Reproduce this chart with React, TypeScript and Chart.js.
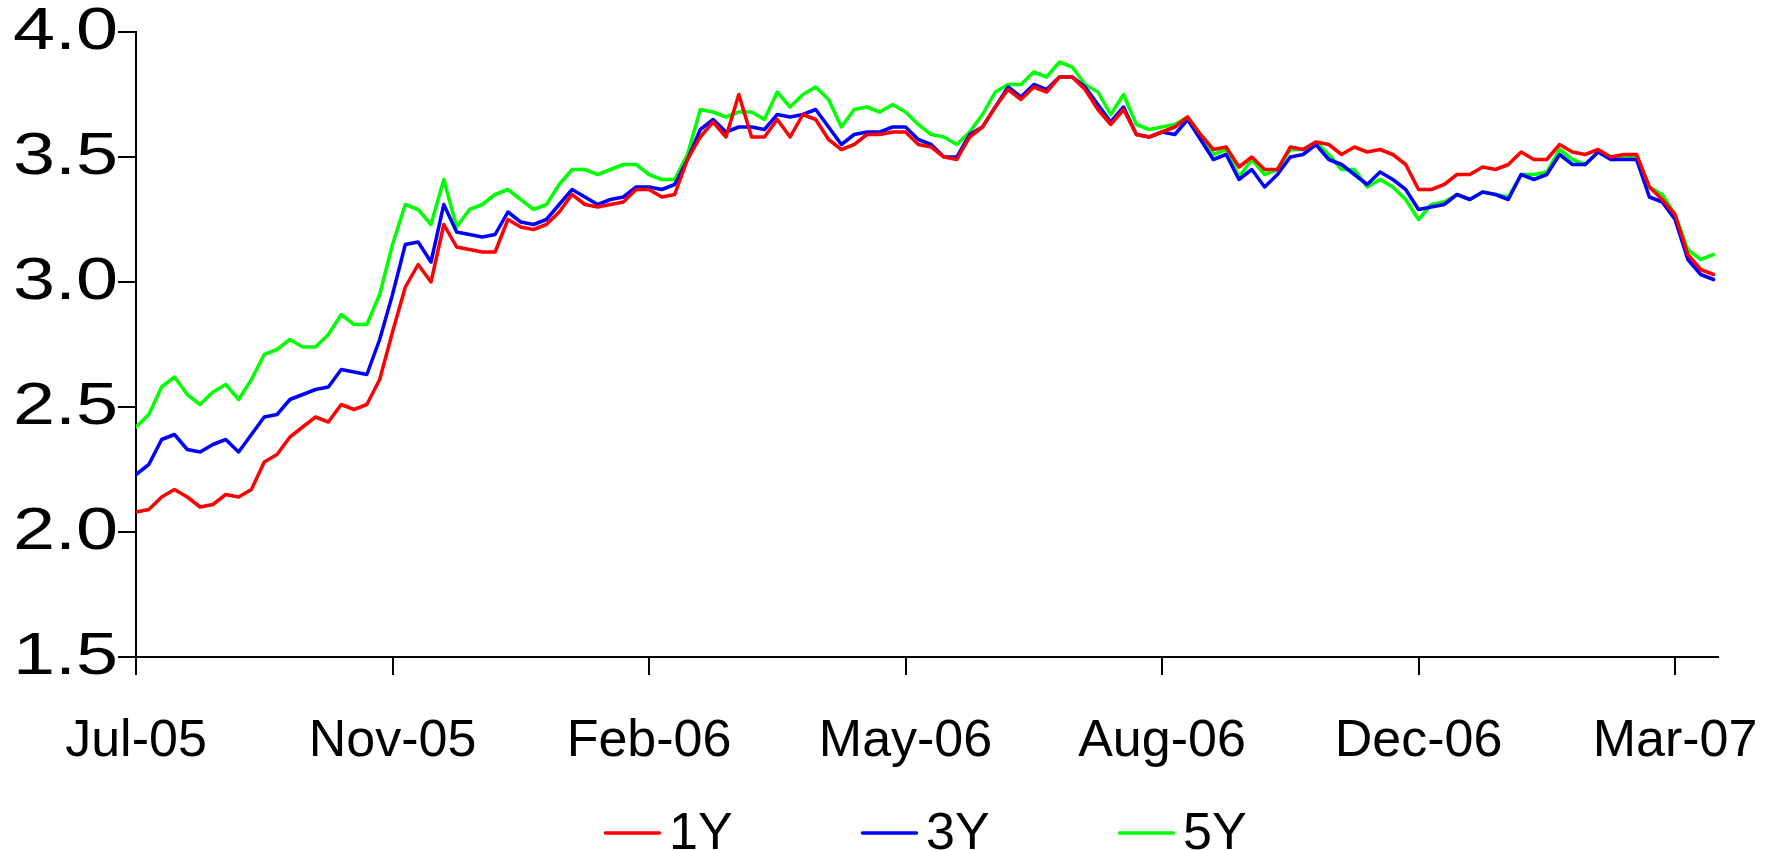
import React, { useEffect, useRef } from "react";
import { Chart, registerables } from "chart.js";

Chart.register(...registerables);

// ---- data ----
const tickLabels = ["Jul-05", "Nov-05", "Feb-06", "May-06", "Aug-06", "Dec-06", "Mar-07"];
const pointsPerTick = 20;
const seriesNames = ["1Y", "3Y", "5Y"];
const seriesColors = ["#FF0000", "#0000FF", "#00FF00"];

const values1Y = [
  2.08, 2.09, 2.14, 2.17, 2.14, 2.10, 2.11, 2.15, 2.14, 2.17, 2.28, 2.31, 2.38, 2.42, 2.46, 2.44, 2.51, 2.49, 2.51, 2.61,
  2.80, 2.98, 3.07, 3.00, 3.23, 3.14, 3.13, 3.12, 3.12, 3.25, 3.22, 3.21, 3.23, 3.28, 3.35, 3.31, 3.30, 3.31, 3.32, 3.37,
  3.37, 3.34, 3.35, 3.49, 3.58, 3.64, 3.58, 3.75, 3.58, 3.58, 3.65, 3.58, 3.67, 3.65, 3.57, 3.53, 3.55, 3.59, 3.59, 3.60,
  3.60, 3.55, 3.54, 3.50, 3.49, 3.58, 3.62, 3.70, 3.77, 3.73, 3.78, 3.76, 3.82, 3.82, 3.77, 3.69, 3.63, 3.69, 3.59, 3.58,
  3.60, 3.62, 3.66, 3.59, 3.53, 3.54, 3.46, 3.50, 3.45, 3.45, 3.54, 3.53, 3.56, 3.55, 3.51, 3.54, 3.52, 3.53, 3.51, 3.47,
  3.37, 3.37, 3.39, 3.43, 3.43, 3.46, 3.45, 3.47, 3.52, 3.49, 3.49, 3.55, 3.52, 3.51, 3.53, 3.50, 3.51, 3.51, 3.38, 3.33,
  3.27, 3.11, 3.05, 3.03,
];

const values3Y = [
  2.23, 2.27, 2.37, 2.39, 2.33, 2.32, 2.35, 2.37, 2.32, 2.39, 2.46, 2.47, 2.53, 2.55, 2.57, 2.58, 2.65, 2.64, 2.63, 2.77,
  2.95, 3.15, 3.16, 3.08, 3.31, 3.20, 3.19, 3.18, 3.19, 3.28, 3.24, 3.23, 3.25, 3.31, 3.37, 3.34, 3.31, 3.33, 3.34, 3.38,
  3.38, 3.37, 3.39, 3.49, 3.61, 3.65, 3.60, 3.62, 3.62, 3.61, 3.67, 3.66, 3.67, 3.69, 3.62, 3.55, 3.59, 3.60, 3.60, 3.62,
  3.62, 3.57, 3.55, 3.50, 3.50, 3.59, 3.62, 3.70, 3.78, 3.74, 3.79, 3.77, 3.82, 3.82, 3.78, 3.71, 3.64, 3.70, 3.59, 3.58,
  3.60, 3.59, 3.65, 3.57, 3.49, 3.51, 3.41, 3.45, 3.38, 3.43, 3.50, 3.51, 3.55, 3.49, 3.47, 3.43, 3.39, 3.44, 3.41, 3.37,
  3.29, 3.30, 3.31, 3.35, 3.33, 3.36, 3.35, 3.33, 3.43, 3.41, 3.43, 3.51, 3.47, 3.47, 3.52, 3.49, 3.49, 3.49, 3.34, 3.32,
  3.25, 3.09, 3.03, 3.01,
];

const values5Y = [
  2.42, 2.47, 2.58, 2.62, 2.55, 2.51, 2.56, 2.59, 2.53, 2.61, 2.71, 2.73, 2.77, 2.74, 2.74, 2.79, 2.87, 2.83, 2.83, 2.95,
  3.15, 3.31, 3.29, 3.23, 3.41, 3.22, 3.29, 3.31, 3.35, 3.37, 3.33, 3.29, 3.31, 3.39, 3.45, 3.45, 3.43, 3.45, 3.47, 3.47,
  3.43, 3.41, 3.41, 3.51, 3.69, 3.68, 3.66, 3.68, 3.68, 3.65, 3.76, 3.70, 3.75, 3.78, 3.73, 3.62, 3.69, 3.70, 3.68, 3.71,
  3.68, 3.63, 3.59, 3.58, 3.55, 3.60, 3.67, 3.76, 3.79, 3.79, 3.84, 3.82, 3.88, 3.86, 3.79, 3.76, 3.67, 3.75, 3.63, 3.61,
  3.62, 3.63, 3.66, 3.59, 3.51, 3.53, 3.42, 3.49, 3.43, 3.45, 3.53, 3.53, 3.56, 3.51, 3.45, 3.45, 3.38, 3.41, 3.38, 3.33,
  3.25, 3.31, 3.32, 3.35, 3.33, 3.36, 3.35, 3.34, 3.43, 3.43, 3.44, 3.53, 3.49, 3.47, 3.52, 3.49, 3.50, 3.50, 3.38, 3.35,
  3.27, 3.13, 3.09, 3.11,
];

const seriesValues = [values1Y, values3Y, values5Y];
const yMin = 1.5;
const yMax = 4.0;
const yStep = 0.5;

// ---- style ----
const FONT = "'Liberation Sans', Arial, Helvetica, sans-serif";
const FONT_SIZE = 52;
const Y_FONT_SIZE = 60;
const Y_STRETCH = 1.26;
const TICK_LEN = 18;

const App: React.FC = () => {
  const canvasRef = useRef<HTMLCanvasElement | null>(null);

  useEffect(() => {
    const canvas = canvasRef.current;
    if (!canvas) return;

    const stretchAndLegend = {
      id: "stretchAndLegend",
      afterDatasetsDraw(chart: any) {
        const ctx = chart.ctx;
        const ox = chart.scales.y.right - TICK_LEN;
        ctx.save();
        ctx.translate(ox, 0);
        ctx.scale(Y_STRETCH, 1);
        ctx.translate(-ox, 0);
      },
      afterDraw(chart: any) {
        const ctx = chart.ctx;
        ctx.restore();
        const startX = 604;
        const spacing = 257;
        const lineLen = 57;
        const lineY = 833;
        chart.data.datasets.forEach((ds: any, i: number) => {
          const x0 = startX + i * spacing;
          ctx.save();
          ctx.strokeStyle = ds.borderColor;
          ctx.lineWidth = 3.5;
          ctx.lineCap = "round";
          ctx.beginPath();
          ctx.moveTo(x0 + 1.5, lineY);
          ctx.lineTo(x0 + lineLen - 1.5, lineY);
          ctx.stroke();
          ctx.fillStyle = "#000000";
          ctx.font = `${FONT_SIZE}px ${FONT}`;
          ctx.textAlign = "left";
          ctx.textBaseline = "alphabetic";
          ctx.fillText(ds.label, x0 + lineLen + 8, 849);
          ctx.restore();
        });
      },
    };

    const chart = new Chart(canvas, {
      type: "line",
      data: {
        datasets: seriesNames.map((name, s) => ({
          label: name,
          data: seriesValues[s].map((v, i) => ({ x: i, y: v })),
          borderColor: seriesColors[s],
          backgroundColor: seriesColors[s],
          borderWidth: 3.5,
          pointRadius: 0,
          pointHoverRadius: 0,
          tension: 0,
          borderJoinStyle: "round",
          borderCapStyle: "round",
          fill: false,
        })),
      },
      options: {
        animation: false,
        responsive: false,
        devicePixelRatio: 1,
        events: [],
        layout: { padding: { top: 32, right: 58, bottom: 46, left: 0 } },
        plugins: {
          legend: { display: false },
          tooltip: { enabled: false },
          title: { display: false },
        },
        scales: {
          x: {
            type: "linear",
            position: "bottom",
            min: 0,
            max: 123.35,
            afterFit: (scale: any) => {
              scale.height = 147;
            },
            ticks: {
              stepSize: pointsPerTick,
              autoSkip: false,
              includeBounds: false,
              maxRotation: 0,
              minRotation: 0,
              padding: 4,
              color: "#000000",
              font: { size: FONT_SIZE, family: FONT, lineHeight: 2.4 },
              callback: (value: any) => {
                const idx = Math.round(Number(value) / pointsPerTick);
                return tickLabels[idx] ?? "";
              },
            },
            grid: {
              display: true,
              drawOnChartArea: false,
              drawTicks: true,
              tickLength: TICK_LEN,
              color: "#000000",
              lineWidth: 2,
            },
            border: { display: true, color: "#000000", width: 2 },
          },
          y: {
            type: "linear",
            position: "left",
            min: yMin,
            max: yMax,
            afterFit: (scale: any) => {
              scale.width = 136;
            },
            ticks: {
              stepSize: yStep,
              padding: 0,
              z: 1,
              color: "#000000",
              font: { size: Y_FONT_SIZE, family: FONT, lineHeight: 1.0 },
              callback: (value: any) => Number(value).toFixed(1),
            },
            grid: {
              display: true,
              drawOnChartArea: false,
              drawTicks: true,
              tickLength: TICK_LEN,
              color: "#000000",
              lineWidth: 2,
            },
            border: { display: true, color: "#000000", width: 2 },
          },
        },
      },
      plugins: [stretchAndLegend],
    });

    return () => {
      chart.destroy();
    };
  }, []);

  return (
    <div style={{ position: "absolute", left: 0, top: 0, width: 1776, height: 850, background: "#ffffff" }}>
      <canvas ref={canvasRef} width={1776} height={850} style={{ display: "block" }} />
    </div>
  );
};

export default App;
